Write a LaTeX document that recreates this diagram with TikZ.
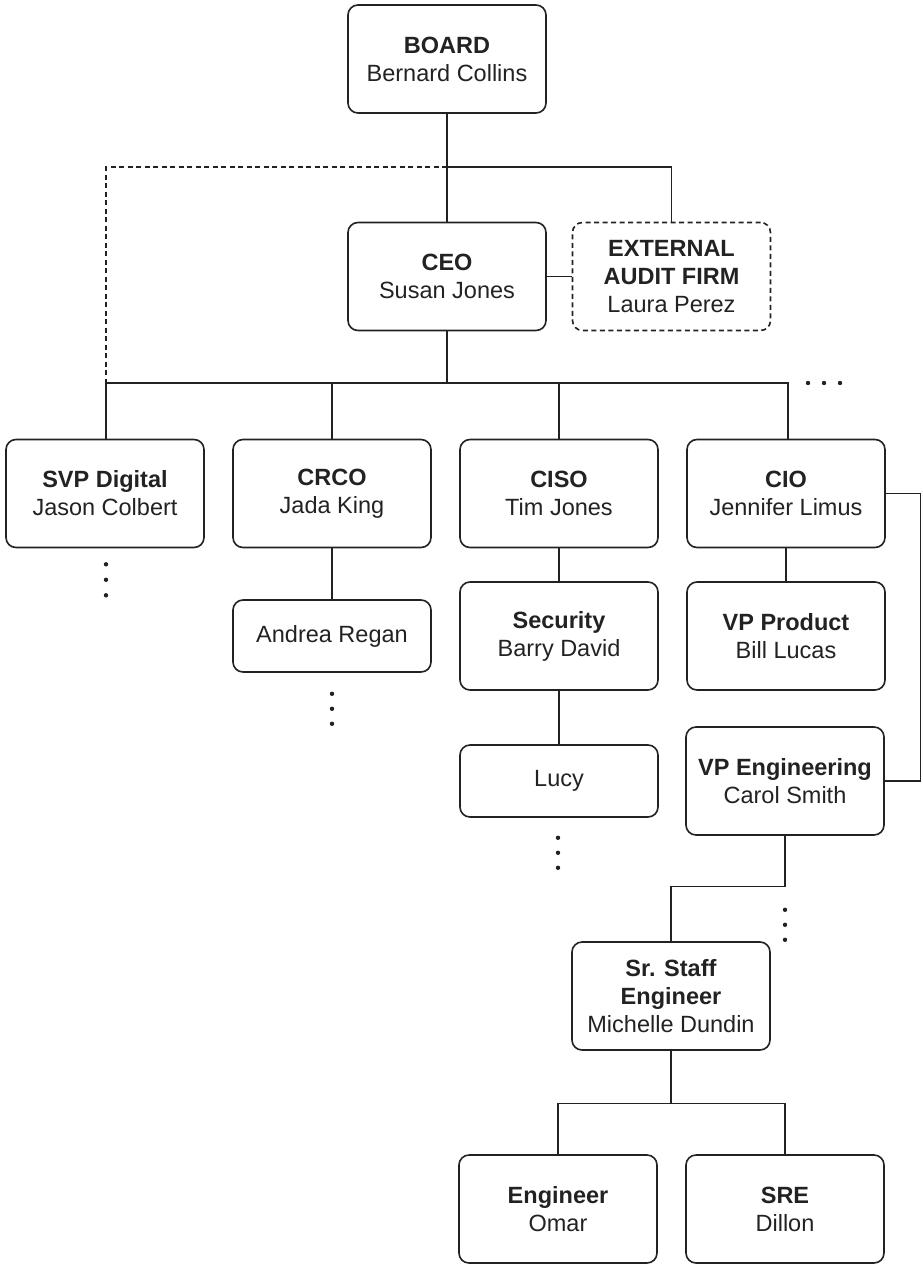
\documentclass[tikz,border=0pt]{standalone}
\usepackage{fontspec}
\setmainfont{Liberation Sans}
\usetikzlibrary{calc}
\definecolor{ink}{HTML}{222222}
\tikzset{
  box/.style={draw=ink, line width=1.6pt, rounded corners=10pt, minimum width=198pt, minimum height=108pt,
    align=center, text=ink, inner sep=0pt, font=\fontsize{23.5}{28}\selectfont},
  smallbox/.style={box, minimum height=72pt},
  dashbox/.style={box, dashed, dash pattern=on 5pt off 3.5pt},
  conn/.style={draw=ink, line width=1.2pt},
  dconn/.style={conn, dash pattern=on 5pt off 3.5pt},
  dot/.style={fill=ink}
}
\begin{document}
\begin{tikzpicture}[x=1pt,y=-1pt]
\useasboundingbox (0,0) rectangle (922,1266);
% nodes
\node[box] (board) at (447,59) {\textbf{BOARD}\\Bernard Collins};
\node[box] (ceo) at (447,276.5) {\textbf{CEO}\\Susan Jones};
\node[dashbox] (ext) at (671.5,276.5) {\textbf{EXTERNAL}\\\textbf{AUDIT FIRM}\\Laura Perez};
\node[box] (svp) at (105,493.5) {\textbf{SVP Digital}\\Jason Colbert};
\node[box] (crco) at (332,493.5) {\textbf{CRCO}\\Jada King};
\node[box] (ciso) at (559,493.5) {\textbf{CISO}\\Tim Jones};
\node[box] (cio) at (786,493.5) {\textbf{CIO}\\Jennifer Limus};
\node[smallbox] (andrea) at (332,636) {Andrea Regan};
\node[box] (security) at (559,636) {\textbf{Security}\\Barry David};
\node[box] (vpprod) at (786,636) {\textbf{VP Product}\\Bill Lucas};
\node[smallbox] (lucy) at (559,781) {Lucy};
\node[box] (vpeng) at (785,781) {\textbf{VP Engineering}\\Carol Smith};
\node[box] (sr) at (671,996) {\textbf{Sr. Staff}\\\textbf{Engineer}\\Michelle Dundin};
\node[box] (eng) at (558,1209) {\textbf{Engineer}\\Omar};
\node[box] (sre) at (785,1209) {\textbf{SRE}\\Dillon};
% junctions
\coordinate (j1) at (447,167);
\coordinate (j2) at (447,383);
\coordinate (jsvp) at (106,383);
\coordinate (jcio) at (788,383);
% connectors
\draw[conn] (board.south) -- (ceo.north);
\draw[conn] (j1) -| (ext.north);
\draw[dconn] (j1) -| (jsvp);
\draw[conn] (ceo.east) -- (ext.west);
\draw[conn] (ceo.south) -- (j2);
\draw[conn] (svp.north -| jsvp) -- (jsvp) -- (jcio) -- (cio.north -| jcio);
\draw[conn] (crco.north) -- (crco.north |- j2);
\draw[conn] (ciso.north) -- (ciso.north |- j2);
\draw[conn] (crco.south) -- (andrea.north);
\draw[conn] (ciso.south) -- (security.north);
\draw[conn] (security.south) -- (lucy.north);
\draw[conn] (cio.south) -- (vpprod.north);
\draw[conn] (cio.east) -- ++(35,0) |- (vpeng.east);
\draw[conn] (vpeng.south) -- ++(0,51) -| (sr.north);
\draw[conn] (sr.south) -- ++(0,53) coordinate (j3);
\draw[conn] (eng.north) |- (j3) -| (sre.north);
% continuation dots
\foreach \d in {16,31.5,47} \fill[dot] ($(svp.south)+(1,\d)$) circle (2.2pt);
\foreach \d in {21,36,51} \fill[dot] ($(andrea.south)+(0,\d)$) circle (2.2pt);
\foreach \d in {20,35,50} \fill[dot] ($(lucy.south)+(-1,\d)$) circle (2.2pt);
\foreach \d in {74,89,104} \fill[dot] ($(vpeng.south)+(0,\d)$) circle (2.2pt);
\foreach \d in {20,36,52} \fill[dot] ($(jcio)+(\d,0)$) circle (2.2pt);
\end{tikzpicture}
\end{document}
